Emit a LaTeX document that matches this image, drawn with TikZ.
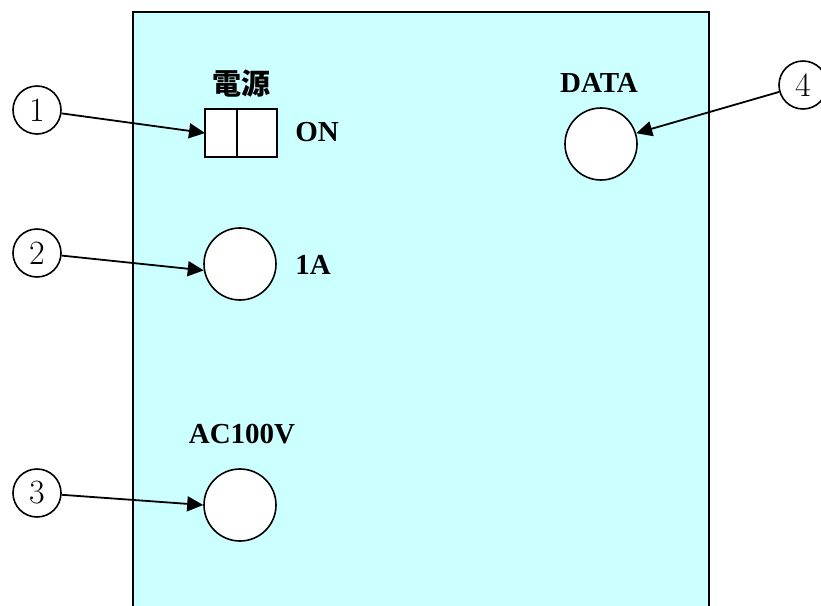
\documentclass[tikz,border=0pt]{standalone}
\usepackage{fontspec}
\newfontfamily\lab{Liberation Serif}
\newfontfamily\cjk{Noto Sans CJK JP}
\usetikzlibrary{arrows.meta,positioning}
\definecolor{panelC}{RGB}{204,255,255}

\begin{document}
\begin{tikzpicture}[x=0.5pt, y=-0.5pt, >={Triangle[length=8pt,width=7.5pt]},
  num/.style={circle, draw, line width=0.8pt, fill=white, minimum size=24pt, inner sep=0, font=\fontsize{17}{17}\selectfont},
  hole/.style={circle, draw, line width=0.8pt, fill=white, minimum size=36pt, inner sep=0},
  sw/.style={rectangle, draw, line width=0.8pt, fill=white, minimum height=24pt, inner sep=0, outer sep=0},
  lbl/.style={font=\lab\bfseries\fontsize{14.5}{16}\selectfont, inner sep=1pt},
  arr/.style={->, line width=0.9pt}]
  \useasboundingbox (0,0) rectangle (821,606);
  \clip (0,0) rectangle (821,606);
  % front panel
  \draw[line width=1.2pt, fill=panelC] (133,12) rectangle (709,640);
  % power switch
  \node[sw, minimum width=16pt] (swl) at (221,133) {};
  \node[sw, minimum width=20pt, right=0pt of swl] (swr) {};
  \node[lbl] (pw) at (242,84) {\cjk\bfseries 電源};
  \node[lbl] (on) at (317,132) {ON};
  % fuse
  \node[hole] (fuse) at (240,264) {};
  \node[lbl] (fl) at (313,265) {1A};
  % mains inlet
  \node[hole] (ac) at (240,505) {};
  \node[lbl] (acl) at (242,434) {AC100V};
  % data connector
  \node[hole] (dt) at (601,144) {};
  \node[lbl] (dtl) at (599,83) {DATA};
  % callouts
  \node[num] (n1) at (37,110) {1};
  \node[num] (n2) at (37,253) {2};
  \node[num] (n3) at (37,493) {3};
  \node[num] (n4) at (803,85) {4};
  \draw[arr] (n1) -- (swl.west);
  \draw[arr] (n2) -- (fuse.190);
  \draw[arr] (n3) -- (ac.west);
  \draw[arr] (n4) -- (dt.17);
\end{tikzpicture}
\end{document}
